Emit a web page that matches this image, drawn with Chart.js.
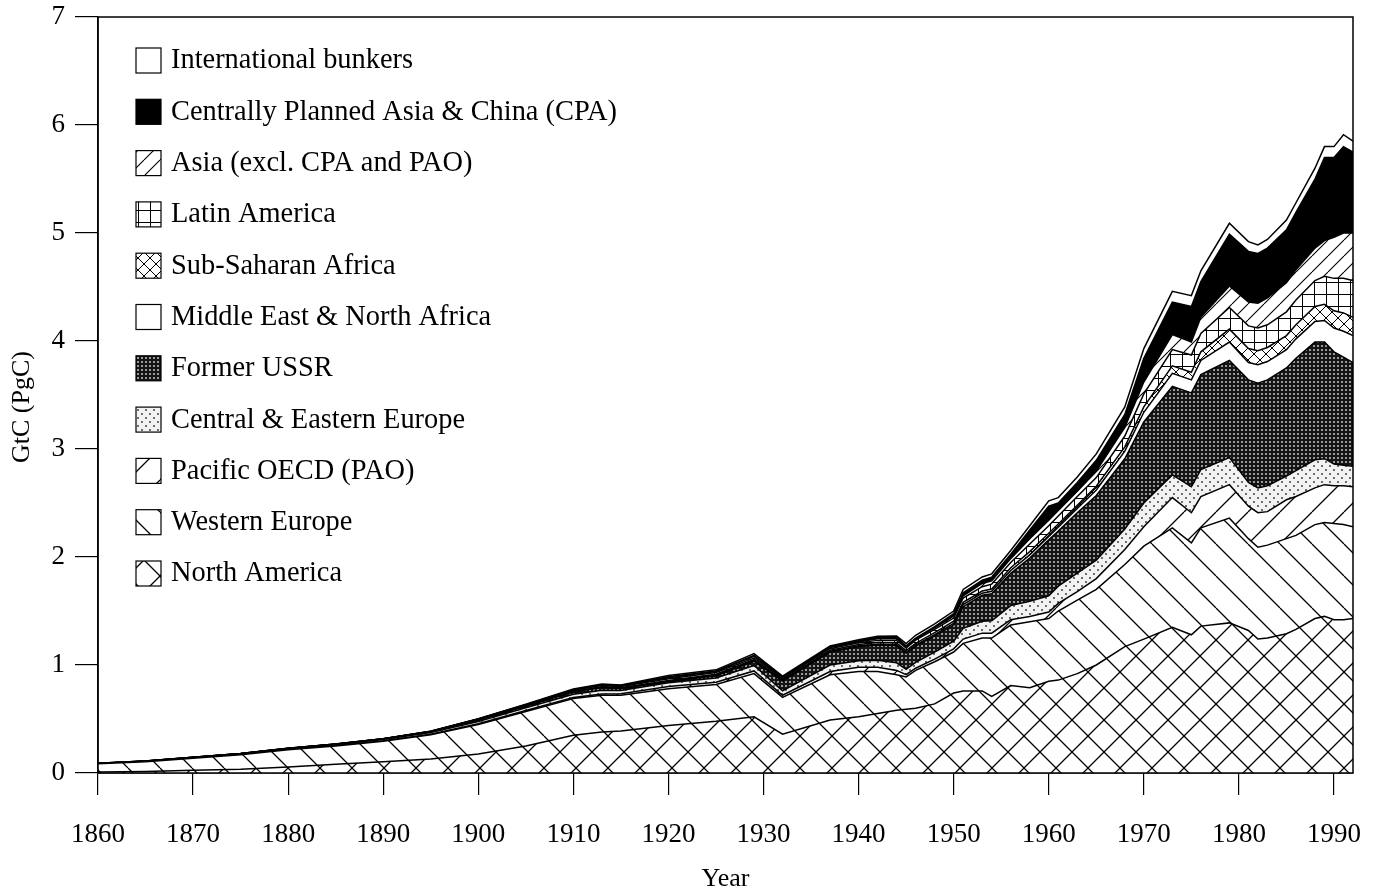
<!DOCTYPE html>
<html>
<head>
<meta charset="utf-8">
<title>Carbon emissions by region</title>
<script src="https://cdn.jsdelivr.net/npm/chart.js@4.4.1/dist/chart.umd.min.js"></script>
<style>
    html, body { margin: 0; padding: 0; background: #fff; }
    #wrap { width: 1375px; height: 895px; }
</style>
</head>
<body>
<div id="wrap"><canvas id="emissionsChart" width="1375" height="895"></canvas></div>
<script>
// Years (x values)
const years = [1860, 1865, 1870, 1875, 1880, 1885, 1890, 1895,
    1900, 1905, 1910, 1913, 1915, 1920, 1925, 1929, 1932, 1937,
    1940, 1942, 1944, 1945, 1946, 1948, 1950, 1951, 1953, 1954, 1956, 1958,
    1960, 1961, 1963, 1965, 1968, 1970, 1973, 1975, 1976, 1979,
    1981, 1982, 1983, 1985, 1986, 1988, 1989, 1990, 1991, 1992];

// Regional emissions, GtC (stacked bottom to top)
const northAmerica = [0.01, 0.015, 0.025, 0.035, 0.055, 0.08, 0.105, 0.13,
    0.175, 0.25, 0.35, 0.38, 0.39, 0.44, 0.48, 0.52, 0.36, 0.49,
    0.52, 0.55, 0.58, 0.59, 0.60, 0.64, 0.74, 0.76, 0.76, 0.71, 0.81, 0.79,
    0.85, 0.86, 0.92, 1.00, 1.17, 1.24, 1.35, 1.28, 1.36, 1.39,
    1.32, 1.24, 1.25, 1.29, 1.33, 1.43, 1.45, 1.42, 1.42, 1.43];
const westernEurope = [0.075, 0.09, 0.112, 0.135, 0.16, 0.17, 0.19, 0.225,
    0.275, 0.32, 0.34, 0.34, 0.33, 0.34, 0.34, 0.40, 0.34, 0.42,
    0.42, 0.39, 0.33, 0.30, 0.35, 0.39, 0.38, 0.44, 0.49, 0.54, 0.56, 0.61,
    0.58, 0.64, 0.68, 0.70, 0.76, 0.86, 0.92, 0.85, 0.91, 0.97,
    0.85, 0.85, 0.86, 0.88, 0.87, 0.87, 0.87, 0.89, 0.88, 0.85];
const pacificOECD = [0, 0, 0.001, 0.001, 0.002, 0.003, 0.004, 0.005,
    0.006, 0.008, 0.01, 0.012, 0.013, 0.02, 0.02, 0.025, 0.02, 0.03,
    0.04, 0.04, 0.04, 0.02, 0.02, 0.025, 0.03, 0.04, 0.045, 0.045, 0.05, 0.05,
    0.06, 0.07, 0.08, 0.10, 0.14, 0.18, 0.28, 0.28, 0.29, 0.31,
    0.30, 0.32, 0.31, 0.36, 0.36, 0.34, 0.35, 0.35, 0.36, 0.37];
const centralEastEurope = [0.002, 0.003, 0.004, 0.005, 0.007, 0.009, 0.011, 0.014,
    0.02, 0.025, 0.03, 0.035, 0.03, 0.035, 0.04, 0.05, 0.04, 0.06,
    0.06, 0.065, 0.07, 0.05, 0.055, 0.065, 0.07, 0.10, 0.11, 0.115, 0.13, 0.14,
    0.15, 0.16, 0.17, 0.17, 0.19, 0.22, 0.21, 0.24, 0.25, 0.25,
    0.22, 0.23, 0.24, 0.22, 0.24, 0.26, 0.24, 0.20, 0.19, 0.19];
const formerUSSR = [0.001, 0.001, 0.002, 0.002, 0.003, 0.004, 0.006, 0.008,
    0.015, 0.015, 0.02, 0.025, 0.02, 0.01, 0.02, 0.04, 0.09, 0.12,
    0.13, 0.14, 0.16, 0.15, 0.15, 0.15, 0.15, 0.20, 0.24, 0.25, 0.30, 0.40,
    0.52, 0.51, 0.56, 0.60, 0.65, 0.75, 0.82, 0.87, 0.88, 0.90,
    0.95, 0.97, 0.98, 1.00, 1.04, 1.09, 1.08, 1.04, 1.00, 0.96];
const middleEast = [0, 0, 0, 0, 0, 0, 0, 0,
    0.001, 0.001, 0.002, 0.002, 0.002, 0.004, 0.005, 0.005, 0.005, 0.006,
    0.008, 0.008, 0.008, 0.008, 0.01, 0.012, 0.015, 0.02, 0.02, 0.022, 0.025, 0.03,
    0.03, 0.035, 0.04, 0.05, 0.07, 0.09, 0.12, 0.12, 0.13, 0.17,
    0.16, 0.17, 0.17, 0.17, 0.18, 0.19, 0.20, 0.22, 0.24, 0.25];
const subSaharan = [0, 0, 0, 0, 0, 0, 0, 0,
    0.002, 0.003, 0.005, 0.005, 0.005, 0.008, 0.01, 0.01, 0.008, 0.01,
    0.012, 0.015, 0.015, 0.015, 0.015, 0.018, 0.02, 0.02, 0.02, 0.022, 0.025, 0.03,
    0.03, 0.03, 0.03, 0.035, 0.04, 0.05, 0.07, 0.07, 0.08, 0.12,
    0.13, 0.13, 0.13, 0.13, 0.13, 0.14, 0.15, 0.16, 0.17, 0.17];
const latinAmerica = [0.001, 0.001, 0.001, 0.001, 0.001, 0.001, 0.001, 0.002,
    0.004, 0.006, 0.008, 0.01, 0.01, 0.015, 0.015, 0.015, 0.01, 0.015,
    0.015, 0.02, 0.025, 0.025, 0.03, 0.03, 0.03, 0.04, 0.04, 0.045, 0.05, 0.07,
    0.07, 0.075, 0.08, 0.08, 0.10, 0.12, 0.15, 0.16, 0.17, 0.20,
    0.21, 0.21, 0.21, 0.22, 0.23, 0.24, 0.26, 0.30, 0.32, 0.34];
const asiaOther = [0.001, 0.001, 0.001, 0.001, 0.001, 0.001, 0.001, 0.002,
    0.003, 0.004, 0.005, 0.007, 0.007, 0.01, 0.01, 0.015, 0.01, 0.01,
    0.01, 0.015, 0.015, 0.01, 0.01, 0.015, 0.02, 0.02, 0.03, 0.03, 0.035, 0.05,
    0.05, 0.05, 0.05, 0.06, 0.08, 0.11, 0.14, 0.12, 0.15, 0.20,
    0.22, 0.23, 0.25, 0.27, 0.28, 0.30, 0.33, 0.38, 0.42, 0.44];
const centralAsiaChina = [0, 0, 0, 0, 0, 0, 0, 0,
    0, 0.001, 0.002, 0.002, 0.003, 0.01, 0.005, 0.01, 0.005, 0.005,
    0.01, 0.015, 0.015, 0.01, 0.01, 0.01, 0.02, 0.03, 0.03, 0.035, 0.04, 0.08,
    0.13, 0.07, 0.08, 0.10, 0.12, 0.22, 0.30, 0.33, 0.33, 0.48,
    0.47, 0.46, 0.46, 0.49, 0.53, 0.64, 0.77, 0.74, 0.80, 0.75];
const bunkers = [0, 0, 0, 0, 0, 0, 0, 0,
    0.002, 0.004, 0.005, 0.006, 0.005, 0.01, 0.01, 0.015, 0.01, 0.01,
    0.008, 0.008, 0.01, 0.02, 0.025, 0.025, 0.025, 0.03, 0.03, 0.03, 0.035, 0.04,
    0.05, 0.05, 0.05, 0.06, 0.07, 0.09, 0.10, 0.10, 0.10, 0.10,
    0.09, 0.08, 0.08, 0.09, 0.09, 0.10, 0.10, 0.10, 0.11, 0.10];

const regionNames = ['North America', 'Western Europe', 'Pacific OECD (PAO)',
    'Central & Eastern Europe', 'Former USSR', 'Middle East & North Africa',
    'Sub-Saharan Africa', 'Latin America', 'Asia (excl. CPA and PAO)',
    'Centrally Planned Asia & China (CPA)', 'International bunkers'];
const regionSeries = [northAmerica, westernEurope, pacificOECD, centralEastEurope,
    formerUSSR, middleEast, subSaharan, latinAmerica, asiaOther, centralAsiaChina, bunkers];

const xTickValues = [1860, 1870, 1880, 1890, 1900, 1910, 1920, 1930, 1940, 1950, 1960, 1970, 1980, 1990];
const yTickValues = [0, 1, 2, 3, 4, 5, 6, 7];

const FONT = "'Liberation Serif', 'Times New Roman', serif";
Chart.defaults.font.family = FONT;
Chart.defaults.color = '#000';

const canvas = document.getElementById('emissionsChart');
const ctx = canvas.getContext('2d');

/**
 * Build a repeating hatch pattern
 */
function makePattern(size, bg, draw) {
    const c = document.createElement('canvas');
    c.width = size;
    c.height = size;
    const g = c.getContext('2d');
    g.fillStyle = bg;
    g.fillRect(0, 0, size, size);
    g.strokeStyle = '#000';
    g.fillStyle = '#000';
    draw(g, size);
    return ctx.createPattern(c, 'repeat');
}

function back(g, s, w) {   // "\" lines
    g.lineWidth = w;
    g.beginPath();
    for (let k = -1; k <= 1; k++) {
        g.moveTo(k * s, 0);
        g.lineTo(k * s + s, s);
    }
    g.stroke();
}

function fwd(g, s, w) {    // "/" lines
    g.lineWidth = w;
    g.beginPath();
    for (let k = -1; k <= 1; k++) {
        g.moveTo(k * s, s);
        g.lineTo(k * s + s, 0);
    }
    g.stroke();
}

const patterns = [
    makePattern(32, '#fff', (g, s) => { back(g, s, 1.3); fwd(g, s, 1.3); }),   // North America
    makePattern(32, '#fff', (g, s) => back(g, s, 1.3)),                        // Western Europe
    makePattern(32, '#fff', (g, s) => fwd(g, s, 1.3)),                         // PAO
    makePattern(8, '#f2f2f2', (g) => {                                         // Central & Eastern Europe
        g.fillStyle = '#6e6e6e';
        g.fillRect(1, 1, 2, 2);
        g.fillRect(5, 5, 2, 2);
    }),
    makePattern(4, '#151515', (g) => {                                          // Former USSR
        g.fillStyle = '#9a9a9a';
        g.fillRect(1, 1, 2, 2);
    }),
    '#ffffff',                                                                 // Middle East & N. Africa
    makePattern(12, '#fff', (g, s) => { back(g, s, 1); fwd(g, s, 1); }),       // Sub-Saharan Africa
    makePattern(12, '#fff', (g, s) => {                                        // Latin America
        g.lineWidth = 1;
        g.beginPath();
        g.moveTo(6.5, 0); g.lineTo(6.5, s);
        g.moveTo(0, 6.5); g.lineTo(s, 6.5);
        g.stroke();
    }),
    makePattern(16, '#fff', (g, s) => fwd(g, s, 1.1)),                         // Asia
    '#000000',                                                                 // CPA
    '#ffffff'                                                                  // bunkers
];

const datasets = regionSeries.map((series, i) => ({
    label: regionNames[i],
    data: years.map((yr, j) => ({ x: yr, y: series[j] })),
    backgroundColor: patterns[i],
    borderColor: '#000',
    borderWidth: 1.5,
    pointRadius: 0,
    tension: 0,
    fill: i === 0 ? 'origin' : '-1'
}));

// Legend inside the plot, top of the stack first, plus frame and y title
const framePlugin = {
    id: 'frameAndLegend',
    afterDraw(chart) {
        const c = chart.ctx;
        const area = chart.chartArea;
        c.save();
        c.strokeStyle = '#000';
        c.lineWidth = 1.5;
        c.strokeRect(area.left, area.top, area.right - area.left, area.bottom - area.top);

        c.font = '28.4px ' + FONT;
        c.textBaseline = 'middle';
        c.textAlign = 'left';
        const n = chart.data.datasets.length;
        for (let k = 0; k < n; k++) {
            const ds = chart.data.datasets[n - 1 - k];
            const y0 = 48 + k * 51.3;
            c.fillStyle = ds.backgroundColor;
            c.fillRect(136, y0, 25, 25);
            c.lineWidth = 1.2;
            c.strokeRect(136, y0, 25, 25);
            c.fillStyle = '#000';
            c.fillText(ds.label, 171, y0 + 13);
        }

        c.translate(22, 407);
        c.rotate(-Math.PI / 2);
        c.textAlign = 'center';
        c.font = '26px ' + FONT;
        c.fillText('GtC (PgC)', 0, 0);
        c.restore();
    }
};

new Chart(ctx, {
    type: 'line',
    data: { datasets: datasets },
    options: {
        responsive: false,
        animation: false,
        events: [],
        layout: { padding: { top: 17, right: 22, left: 0, bottom: 0 } },
        plugins: {
            legend: { display: false },
            tooltip: { enabled: false }
        },
        scales: {
            x: {
                type: 'linear',
                min: 1860,
                max: 1992,
                afterBuildTicks: scale => { scale.ticks = xTickValues.map(v => ({ value: v })); },
                afterFit: scale => {
                    scale.height = 122;
                    scale.paddingLeft = 0;
                    scale.paddingRight = 0;
                },
                ticks: {
                    font: { size: 27 },
                    padding: 24,
                    maxRotation: 0,
                    autoSkip: false,
                    callback: value => String(value)
                },
                grid: { drawOnChartArea: false, tickLength: 22, color: '#000', lineWidth: 1.2 },
                border: { color: '#000', width: 1.5 },
                title: { display: true, text: 'Year', font: { size: 26 }, padding: { top: 0, bottom: 0 } }
            },
            y: {
                stacked: true,
                min: 0,
                max: 7,
                afterBuildTicks: scale => { scale.ticks = yTickValues.map(v => ({ value: v })); },
                afterFit: scale => {
                    scale.width = 98;
                    scale.paddingTop = 0;
                    scale.paddingBottom = 0;
                },
                ticks: { font: { size: 27 }, padding: 10 },
                grid: { drawOnChartArea: false, tickLength: 23, color: '#000', lineWidth: 1.2 },
                border: { color: '#000', width: 1.5 }
            }
        }
    },
    plugins: [framePlugin]
});
</script>
</body>
</html>
